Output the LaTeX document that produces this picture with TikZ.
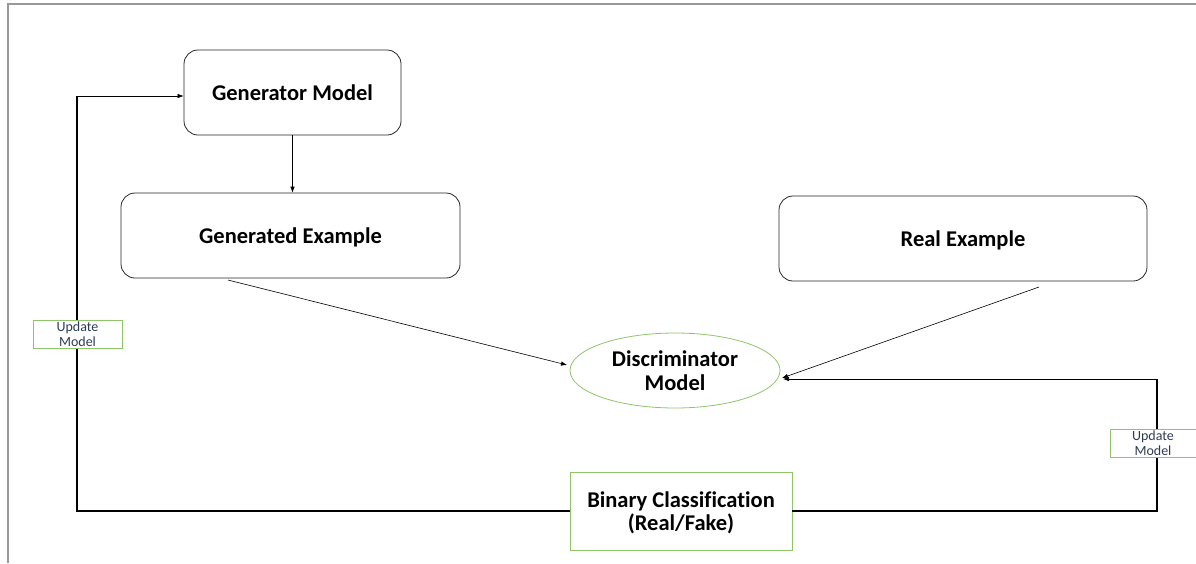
\documentclass[tikz,border=0pt]{standalone}
\usepackage{fontspec}
\setmainfont[Ligatures=NoCommon]{Carlito}
\usetikzlibrary{arrows.meta,shapes.geometric}
\definecolor{boxgreen}{HTML}{8FC46A}
\definecolor{labtext}{HTML}{2F3B55}
\newcommand{\dn}[1]{\raisebox{-2pt}[\height][\depth]{#1}}
\begin{document}
\begin{tikzpicture}[x=1pt,y=-1pt,
  rbox/.style={draw=black!85,line width=0.8pt,rounded corners=14pt,font=\bfseries\fontsize{22.5}{24}\selectfont},
  disc/.style={draw=boxgreen,line width=0.8pt,ellipse,font=\bfseries\fontsize{22.5}{24}\selectfont,align=center},
  gbox/.style={draw=boxgreen,line width=0.8pt,fill=white},
  btext/.style={font=\bfseries\fontsize{22.5}{23}\selectfont,align=center},
  upd/.style={draw=boxgreen,line width=0.6pt,fill=white,font=\fontsize{14}{15}\selectfont,text=labtext,align=center,inner sep=0pt},
  arr/.style={-{Latex[length=6pt,width=4.5pt]},line width=0.6pt,black},
  loop/.style={line width=1.4pt,black}]
\useasboundingbox (0,0) rectangle (1196,563);
% frame
\draw[gray!80,line width=1.2pt] (8,563) -- (8,4) -- (1196,4);
% nodes
\node[rbox,minimum width=217pt,minimum height=85pt] (gen) at (292.5,92.5) {Generator Model};
\node[rbox,minimum width=339pt,minimum height=85pt] (gex) at (290.5,235.5) {\dn{Generated Example}};
\node[rbox,minimum width=368pt,minimum height=85pt] (rex) at (963,238.5) {\dn{Real Example}};
\node[disc,minimum width=210pt,minimum height=75pt,inner sep=0pt] (dis) at (675,370.5) {Discriminator\\Model};
\node[gbox,minimum width=222pt,minimum height=78pt] (bin) at (681,511) {};
\node[btext] (bint) at (681,513) {Binary Classification\\(Real/Fake)};
% coordinates
\coordinate (gexo) at (228,280);
\coordinate (dinl) at (567,365);
\coordinate (rexo) at (1039,287);
\coordinate (dinr) at (782,378);
\coordinate (lb) at (77,511);
\coordinate (lt) at (77,96);
\coordinate (rb) at (1157,511);
\coordinate (rt) at (1157,379);
\coordinate (dinr2) at (783,379);
% connectors
\draw[arr] (gen.south) -- (gen.south |- gex.north);
\draw[arr] (gexo) -- (dinl);
\draw[arr] (rexo) -- (dinr);
\draw[loop] (bin.west) -- (lb) -- (lt);
\draw[arr] (lt) -- (gen.west |- lt);
\draw[loop] (bin.east) -- (rb) -- (rt);
\draw[arr] (rt) -- (dinr2);
% update labels
\node[upd,minimum width=89pt,minimum height=28pt] (u1) at (77.5,334) {Update\\Model};
\node[upd,minimum width=86pt,minimum height=28pt] (u2) at (1153,443) {Update\\Model};
\end{tikzpicture}
\end{document}
